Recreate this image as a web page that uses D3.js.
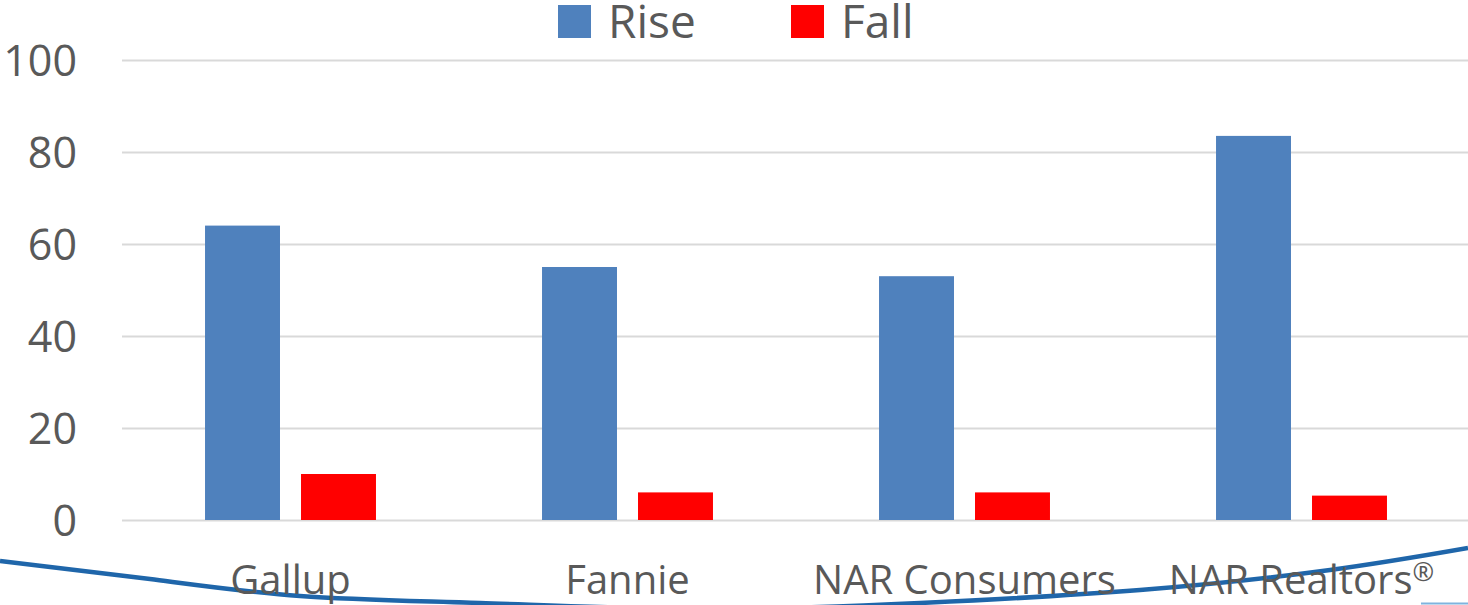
<!DOCTYPE html>
<html>
<head>
<meta charset="utf-8">
<script src="https://cdn.jsdelivr.net/npm/d3@7"></script>
<style>
  body { margin: 0; background: #fff; overflow: hidden; }
  text { font-family: "Open Sans", sans-serif; fill: #595959; }
</style>
</head>
<body>
<div id="chart"></div>
<script>
const categories = ["Gallup", "Fannie", "NAR Consumers", "NAR Realtors®"]
const seriesNames = ["Rise", "Fall"]
const riseValues = [64, 55, 53, 83.5]
const fallValues = [10, 6, 6, 5.3]
const yTicks = [0, 20, 40, 60, 80, 100]
const colors = ["#4f81bd", "#ff0000"]

// decorative swoosh across the bottom of the slide
const swoosh = [[0, 561], [150, 579], [300, 596], [480, 603], [700, 609], [920, 603], [1140, 590], [1330, 570], [1468, 548]]

const w_full = 1468
const h_full = 605
const margin = {top: 60, right: -2, bottom: 85, left: 122}
const width = w_full - margin.left - margin.right
const height = h_full - margin.top - margin.bottom

const svg = d3.select("#chart")
    .append("svg")
    .attr("width", w_full)
    .attr("height", h_full)

const data = categories.map((c, i) => ({cat: c, values: [riseValues[i], fallValues[i]]}))

const x0 = d3.scaleBand()
    .domain(categories)
    .range([margin.left, margin.left + width])

const x1 = d3.scaleBand()
    .domain(seriesNames)
    .range([0, x0.bandwidth()])
    .paddingInner(0.219)
    .paddingOuter(0.865)

const y = d3.scaleLinear()
    .domain([0, 100])
    .range([margin.top + height, margin.top])

// Y axis + gridlines
const yAxis = svg.append("g")
    .attr("class", "y axis")
    .attr("transform", `translate(${margin.left},0)`)
    .call(d3.axisLeft(y).tickValues(yTicks).tickSize(-width).tickPadding(45))
yAxis.select(".domain").remove()
yAxis.selectAll("line").attr("stroke", "#d9d9d9").attr("stroke-width", 2)
yAxis.selectAll("text")
    .attr("font-size", 43)
    .attr("dy", "0.35em")
    .style("fill", "#595959")

// bars
const groups = svg.append("g")
    .selectAll("g")
    .data(data)
    .join("g")
    .attr("transform", d => `translate(${x0(d.cat)},0)`)

groups.selectAll("rect")
    .data(d => d.values.map((v, i) => ({key: seriesNames[i], value: v})))
    .join("rect")
    .attr("x", d => x1(d.key))
    .attr("width", x1.bandwidth())
    .attr("y", d => y(d.value))
    .attr("height", d => y(0) - y(d.value))
    .attr("fill", (d, i) => colors[i])

// swoosh
svg.append("path")
    .attr("d", d3.line().curve(d3.curveNatural)(swoosh))
    .attr("fill", "none")
    .attr("stroke", "#1f66aa")
    .attr("stroke-width", 4.5)

svg.append("line")
    .attr("x1", 1421).attr("x2", 1468)
    .attr("y1", 603.5).attr("y2", 603.5)
    .attr("stroke", "#7fb3de")
    .attr("stroke-width", 2)

// category labels
const xAxis = svg.append("g")
    .attr("class", "x axis")
    .attr("transform", `translate(0,${margin.top + height})`)
    .call(d3.axisBottom(x0).tickSize(0).tickPadding(0))
xAxis.select(".domain").remove()
xAxis.selectAll("text")
    .attr("font-size", 40)
    .attr("dy", 0)
    .attr("y", 74)
    .style("fill", "#595959")
    .each(function(d) {
        // registered mark sits small and raised, like the original
        if (d.endsWith("®")) {
            const t = d3.select(this).text(null)
            t.append("tspan").text(d.slice(0, -1))
            t.append("tspan").attr("font-size", 26).attr("dy", -13).text("®")
        }
    })

// legend
const legend = svg.append("g").attr("class", "legend")
const legendX = [558, 791]
seriesNames.forEach((s, i) => {
    legend.append("rect")
        .attr("x", legendX[i])
        .attr("y", 5)
        .attr("width", 33)
        .attr("height", 33)
        .attr("fill", colors[i])
    legend.append("text")
        .attr("x", legendX[i] + 50)
        .attr("y", 38)
        .attr("font-size", 46)
        .text(s)
})
</script>
</body>
</html>
